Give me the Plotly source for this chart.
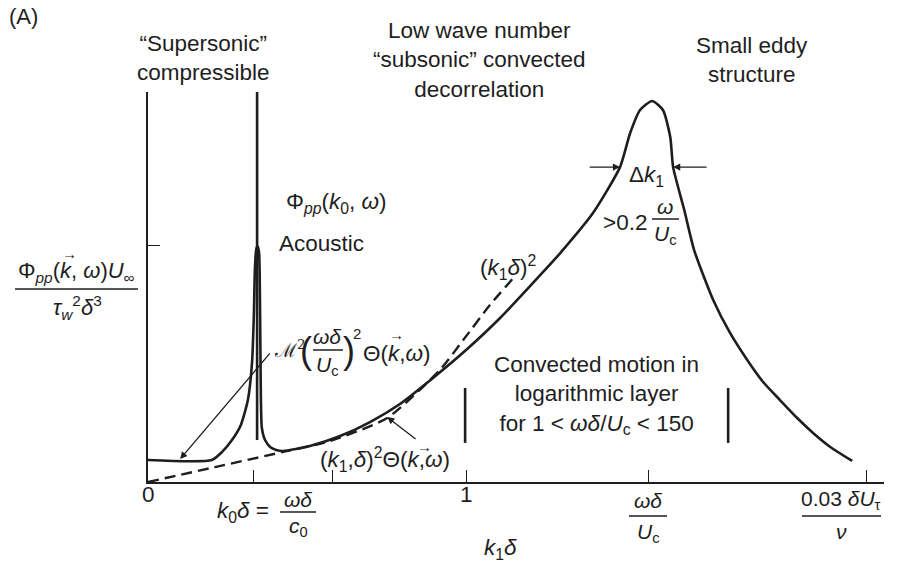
import plotly.graph_objects as go

# ---------------- data (schematic units: x = k1*delta, y = normalised spectrum) ----------------
solid_x = [0.000, 0.201, 0.233, 0.264, 0.292, 0.314, 0.327, 0.333, 0.336, 0.340, 0.344,
           0.349, 0.352, 0.355, 0.358, 0.368, 0.384, 0.403, 0.425, 0.509, 0.604, 0.698,
           0.792, 0.896, 1.000, 1.107, 1.233, 1.296, 1.399, 1.484, 1.516, 1.547, 1.585,
           1.619, 1.642, 1.651, 1.686, 1.717, 1.777, 1.830, 1.884, 1.934, 1.987, 2.041,
           2.091, 2.145, 2.214]
solid_y = [0.093, 0.093, 0.127, 0.177, 0.241, 0.346, 0.502, 0.713, 0.895, 0.979, 0.996,
           0.970, 0.768, 0.346, 0.228, 0.177, 0.148, 0.135, 0.131, 0.152, 0.194, 0.253,
           0.329, 0.439, 0.557, 0.692, 0.873, 0.966, 1.135, 1.329, 1.473, 1.570, 1.608,
           1.570, 1.456, 1.329, 1.148, 0.979, 0.768, 0.629, 0.515, 0.422, 0.346, 0.270,
           0.207, 0.148, 0.089]

dashed_x = [0.000, 0.211, 0.425, 0.572, 0.752, 0.918, 0.991, 1.075, 1.154]
dashed_y = [0.000, 0.063, 0.127, 0.173, 0.270, 0.473, 0.599, 0.747, 0.869]

spike_x = [0.343, 0.343]
spike_y = [0.177, 1.646]

bar_left_x = [0.997, 0.997]
bar_right_x = [1.824, 1.824]
bar_y = [0.165, 0.397]

x_tickvals = [0.333, 0.579, 1.0, 1.572, 2.258]
y_tickvals = [1.0]
x_range = [0, 2.314]
y_range = [0, 1.646]

W, H = 912, 569
INK = "#1e1e1e"
FONT = "Liberation Sans, Arial, sans-serif"
FS = 22.5   # main text size
MS = 21     # math fraction size

fig = go.Figure()

fig.add_trace(go.Scatter(x=solid_x, y=solid_y, mode="lines",
                         line=dict(color=INK, width=2.6, shape="spline", smoothing=0.6),
                         hoverinfo="skip"))
fig.add_trace(go.Scatter(x=dashed_x, y=dashed_y, mode="lines",
                         line=dict(color=INK, width=2.4, dash="11px,6px", shape="spline", smoothing=0.6),
                         hoverinfo="skip"))
fig.add_trace(go.Scatter(x=spike_x, y=spike_y, mode="lines", line=dict(color=INK, width=2.6), hoverinfo="skip"))
fig.add_trace(go.Scatter(x=bar_left_x, y=bar_y, mode="lines", line=dict(color=INK, width=2.6), hoverinfo="skip"))
fig.add_trace(go.Scatter(x=bar_right_x, y=bar_y, mode="lines", line=dict(color=INK, width=2.6), hoverinfo="skip"))

ann = []
shapes = []


def px(x):
    return x / W


def py(y):
    return 1 - y / H


def text(x, y, s, size=FS, xanchor="center", yanchor="middle", family=FONT):
    ann.append(dict(x=px(x), y=py(y), xref="paper", yref="paper", text=s, showarrow=False,
                    xanchor=xanchor, yanchor=yanchor, font=dict(size=size, color=INK, family=family)))


def hbar(x0, x1, y, w=1.5):
    shapes.append(dict(type="line", xref="paper", yref="paper", x0=px(x0), x1=px(x1),
                       y0=py(y), y1=py(y), line=dict(color=INK, width=w)))


def arrow(xh, yh, xt, yt, w=1.3):
    ann.append(dict(x=xh, y=yh, ax=xt, ay=yt, xref="x", yref="y", axref="x", ayref="y",
                    text="", showarrow=True, arrowhead=2, arrowsize=1.1, arrowwidth=w,
                    arrowcolor=INK))


# titles
text(23, 16, "(A)", size=22)
text(203, 58, "\u201cSupersonic\u201d<br>compressible")
text(479, 60, "Low wave number<br>\u201csubsonic\u201d convected<br>decorrelation")
text(752, 60, "Small eddy<br>structure")

# y label fraction
text(76, 272, "\u03a6<sub><i>pp</i></sub>(<i>k</i>, <i>\u03c9</i>)<i>U</i><sub>\u221e</sub>", size=22)
text(69, 253, "\u2192", size=15)
hbar(15, 138, 289)
text(77, 307, "<i>\u03c4</i><sub><i>w</i></sub><sup>2</sup><i>\u03b4</i><sup>3</sup>", size=22)

# labels near spike
text(284, 203, "\u03a6<sub><i>pp</i></sub>(<i>k</i><sub>0</sub>, <i>\u03c9</i>)", xanchor="left")
text(277, 243, "Acoustic", xanchor="left")

# M^2 (omega delta / Uc)^2 Theta label
text(272, 349, "\u2133<sup>2</sup>", size=19, xanchor="left", family="DejaVu Serif")
text(306, 350, "(", size=36)
text(327, 336, "<i>\u03c9\u03b4</i>", size=MS)
hbar(313, 343, 350)
text(327, 366, "<i>U</i><sub>c</sub>", size=MS)
text(349, 350, ")", size=36)
text(357, 333, "2", size=15)
text(361, 353, "\u0398(<i>k</i>,<i>\u03c9</i>)", xanchor="left")
text(396, 334, "\u2192", size=15)

# (k1 delta)^2
text(478, 267, "(<i>k</i><sub>1</sub><i>\u03b4</i>)<sup>2</sup>", xanchor="left")

# small eddy width
text(646, 176, "\u0394<i>k</i><sub>1</sub>")
text(649, 222, ">0.2", xanchor="right")
text(665, 206, "<i>\u03c9</i>", size=MS)
hbar(652, 679, 219)
text(665, 235, "<i>U</i><sub>c</sub>", size=MS)

# convected motion block
text(596, 395, "Convected motion in<br>logarithmic layer<br>for 1 < <i>\u03c9\u03b4</i>/<i>U</i><sub>c</sub> < 150")

# (k1,delta)^2 Theta
text(385, 459, "(<i>k</i><sub>1</sub>,<i>\u03b4</i>)<sup>2</sup>\u0398(<i>k</i>,<i>\u03c9</i>)")
text(424, 446, "\u2192", size=15)

# x tick labels
text(148, 494, "0")
text(271, 512, "<i>k</i><sub>0</sub><i>\u03b4</i> =", xanchor="right")
text(298, 499, "<i>\u03c9\u03b4</i>", size=MS)
hbar(280, 316, 512)
text(298, 527, "<i>c</i><sub>0</sub>", size=MS)
text(466, 494, "1")
text(648, 500, "<i>\u03c9\u03b4</i>", size=MS)
hbar(629, 667, 516)
text(648, 533, "<i>U</i><sub>c</sub>", size=MS)
text(841, 500, "0.03 <i>\u03b4U</i><sub>\u03c4</sub>", size=MS)
hbar(802, 881, 516)
text(841, 531, "<i>\u03bd</i>", size=MS)
text(500, 549, "<i>k</i><sub>1</sub><i>\u03b4</i>")

# arrows (data coordinates)
arrow(0.101, 0.097, 0.387, 0.549)
arrow(0.752, 0.274, 0.846, 0.177)
arrow(1.484, 1.329, 1.384, 1.329)
arrow(1.651, 1.329, 1.761, 1.329)

axis_common = dict(showgrid=False, zeroline=False, showline=True, linecolor=INK, linewidth=1.6,
                   ticks="inside", ticklen=12, tickwidth=1.4, tickcolor=INK,
                   showticklabels=False, fixedrange=True)

fig.update_layout(
    width=W, height=H,
    margin=dict(l=0, r=0, t=0, b=0),
    paper_bgcolor="white", plot_bgcolor="white",
    showlegend=False,
    xaxis=dict(domain=[148 / W, 884 / W], range=x_range, tickvals=x_tickvals, **axis_common),
    yaxis=dict(domain=[1 - 482 / H, 1 - 92 / H], range=y_range, tickvals=y_tickvals, **axis_common),
    annotations=ann,
    shapes=shapes,
    font=dict(family=FONT, color=INK),
)

fig.write_html("out.html")
